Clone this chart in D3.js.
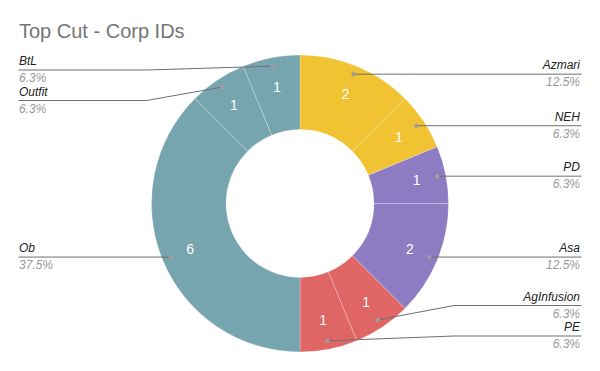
<!DOCTYPE html>
<html>
<head>
<meta charset="utf-8">
<script src="https://cdn.jsdelivr.net/npm/d3@7"></script>
<style>
  body { margin: 0; background: #fff; }
  svg { display: block; font-family: "Liberation Sans", Arial, sans-serif; }
</style>
</head>
<body>
<svg id="chart" width="600" height="371"></svg>
<script>
'use strict';

// slices in clockwise order from 12 o'clock
const names = ['Azmari', 'NEH', 'PD', 'Asa', 'AgInfusion', 'PE', 'Ob', 'Outfit', 'BtL'];
const counts = [2, 1, 1, 2, 1, 1, 6, 1, 1];
const colors = ['#f1c232', '#f1c232', '#8e7cc3', '#8e7cc3', '#e06666', '#e06666', '#76a5af', '#76a5af', '#76a5af'];
const title = 'Top Cut - Corp IDs';

const svg = d3.select('#chart');
const width = 600;
const cx = 300, cy = 203.5;
const outerR = 148.5, innerR = 74;

svg.append('text')
  .attr('x', 19)
  .attr('y', 38)
  .attr('fill', '#757575')
  .attr('font-size', 20)
  .text(title);

const rows = names.map((n, i) => ({ name: n, value: counts[i], color: colors[i] }));
const total = d3.sum(counts);

const pie = d3.pie().sort(null).value(d => d.value);
const arcs = pie(rows);

const arc = d3.arc().innerRadius(innerR).outerRadius(outerR);
const dotArc = d3.arc().innerRadius(140).outerRadius(140);
const numArc = d3.arc().innerRadius(119).outerRadius(119);

const g = svg.append('g').attr('transform', `translate(${cx},${cy})`);

g.selectAll('path.slice')
  .data(arcs)
  .join('path')
  .attr('class', 'slice')
  .attr('d', arc)
  .attr('fill', d => d.data.color)
  .attr('stroke', 'rgba(255,255,255,0.35)')
  .attr('stroke-width', 0.7);

g.selectAll('text.num')
  .data(arcs)
  .join('text')
  .attr('class', 'num')
  .attr('transform', d => `translate(${numArc.centroid(d)})`)
  .attr('text-anchor', 'middle')
  .attr('dy', '0.36em')
  .attr('fill', '#fff')
  .attr('font-size', 14)
  .text(d => d.value);

// leader labels: push apart on each side so they don't overlap
const gap = 30.5, minY = 70, maxY = 336;
const labels = arcs.map(d => {
  const c = dotArc.centroid(d);
  return { d: d, x: cx + c[0], y: cy + c[1], right: c[0] >= 0, ly: cy + c[1] };
});

[true, false].forEach(side => {
  const list = labels.filter(l => l.right === side).sort((a, b) => a.y - b.y);
  for (let i = 0; i < list.length; i++) {
    let y = Math.max(list[i].y, minY);
    if (i > 0) y = Math.max(y, list[i - 1].ly + gap);
    list[i].ly = y;
  }
  for (let i = list.length - 1; i >= 0; i--) {
    let y = Math.min(list[i].ly, maxY);
    if (i < list.length - 1) y = Math.min(y, list[i + 1].ly - gap);
    list[i].ly = y;
  }
});

const pct = d3.format('.1f');
const lg = svg.append('g');

labels.forEach(l => {
  const endX = l.right ? 581.5 : 18.5;
  const elbowX = l.right ? cx + outerR + 5.5 : cx - outerR - 5;
  let pts;
  if (Math.abs(l.ly - l.y) < 0.5) {
    pts = [[l.x, l.y], [endX, l.y]];
  } else {
    pts = [[l.x, l.y], [elbowX, l.ly], [endX, l.ly]];
  }
  lg.append('path')
    .attr('d', d3.line()(pts))
    .attr('fill', 'none')
    .attr('stroke', '#6f6f6f')
    .attr('stroke-width', 1);
  lg.append('circle')
    .attr('cx', l.x)
    .attr('cy', l.y)
    .attr('r', 2.2)
    .attr('fill', '#9e9e9e');

  const tx = l.right ? 580 : 19;
  const anchor = l.right ? 'end' : 'start';
  lg.append('text')
    .attr('x', tx)
    .attr('y', l.ly - 5)
    .attr('text-anchor', anchor)
    .attr('font-size', 12)
    .attr('font-style', 'italic')
    .attr('fill', '#222')
    .text(l.d.data.name);
  lg.append('text')
    .attr('x', tx)
    .attr('y', l.ly + 12)
    .attr('text-anchor', anchor)
    .attr('font-size', 12)
    .attr('font-style', 'italic')
    .attr('fill', '#999')
    .text(pct(l.d.data.value / total * 100) + '%');
});
</script>
</body>
</html>
